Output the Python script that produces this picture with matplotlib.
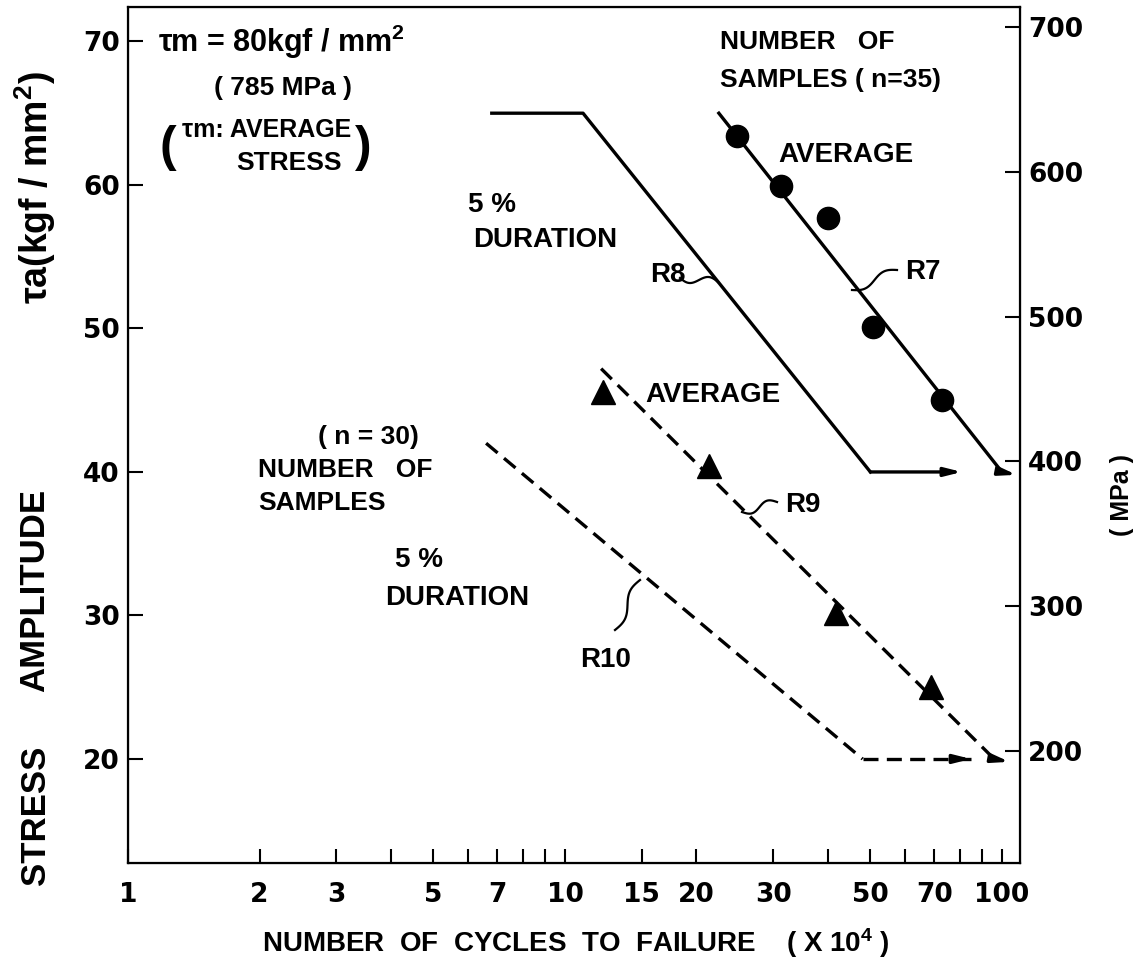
import numpy as np
import matplotlib
matplotlib.use("Agg")
import matplotlib.pyplot as plt
from matplotlib.ticker import FixedLocator, NullFormatter, NullLocator

# cycles (x 10^4) and stress amplitude (kgf/mm2)
r7_x = [22.5, 100]
r7_y = [65, 40]
r7_pts_x = [24.8, 31.2, 40.0, 50.7, 72.9]
r7_pts_y = [63.4, 59.9, 57.7, 50.1, 45.0]

r8_x = [6.8, 11, 50]
r8_y = [65, 65, 40]
r8_arrow_x = [50, 81]

r9_x = [12.1, 96]
r9_y = [47.2, 20]
r9_pts_x = [12.2, 21.4, 41.7, 68.9]
r9_pts_y = [45.6, 40.4, 30.2, 25.0]

r10_x = [6.6, 48]
r10_y = [42, 20]
r10_arrow_x = [48, 85]

x_labels = [1, 2, 3, 5, 7, 10, 15, 20, 30, 50, 70, 100]
x_minor = [4, 6, 8, 9, 40, 60, 80, 90]
y_ticks = [20, 30, 40, 50, 60, 70]
mpa_ticks = [200, 300, 400, 500, 600, 700]

TEXT_FONT = ["Liberation Sans", "DejaVu Sans"]
plt.rcParams["font.family"] = TEXT_FONT
plt.rcParams["font.weight"] = "bold"
plt.rcParams["mathtext.fontset"] = "custom"
plt.rcParams["mathtext.rm"] = "Liberation Sans:bold"
plt.rcParams["mathtext.it"] = "Liberation Sans:bold"
plt.rcParams["mathtext.bf"] = "Liberation Sans:bold"

W, H = 1142, 965
fig = plt.figure(figsize=(W / 100, H / 100), dpi=100)
ax = fig.add_axes([128 / W, 1 - 863 / H, 892 / W, 856 / H])

dash = (0, (4.5, 2.5))
ax.plot(r7_x, r7_y, color="black", lw=2.4)
ax.plot(r7_pts_x, r7_pts_y, "o", color="black", ms=16)
ax.plot(r8_x, r8_y, color="black", lw=2.4)
ax.plot(r9_x, r9_y, color="black", lw=2.4, ls=dash)
ax.plot(r9_pts_x, r9_pts_y, "^", color="black", ms=17)
ax.plot(r10_x, r10_y, color="black", lw=2.4, ls=dash)

arrow = dict(arrowstyle="-|>,head_length=1.0,head_width=0.25", color="black",
             lw=2.4, shrinkA=0, shrinkB=0)
ax.annotate("", xy=(r8_arrow_x[1], 40), xytext=(r8_arrow_x[0], 40),
            arrowprops=arrow)
ax.annotate("", xy=(108, 39.8), xytext=(r7_x[1], r7_y[1]), arrowprops=arrow)
ax.annotate("", xy=(104, 19.8), xytext=(r9_x[1], r9_y[1]), arrowprops=arrow)
ax.plot(r10_arrow_x, [20, 20], color="black", lw=2.4, ls=dash)
ax.annotate("", xy=(r10_arrow_x[1], 20), xytext=(r10_arrow_x[1] - 6, 20),
            arrowprops=arrow)

ax.set_xscale("log")
ax.set_xlim(1, 110)
ax.set_ylim(12.75, 72.4)
ax.xaxis.set_major_locator(FixedLocator(x_labels))
ax.xaxis.set_minor_locator(FixedLocator(x_minor))
ax.xaxis.set_minor_formatter(NullFormatter())
ax.set_xticklabels([str(v) for v in x_labels])
ax.set_yticks(y_ticks)
ax.yaxis.set_minor_locator(NullLocator())
ax.tick_params(axis="x", which="both", direction="in", length=10, width=1.5,
               labelsize=19, pad=14)
ax.tick_params(axis="y", direction="in", length=11, width=1.5, labelsize=19,
               pad=6)
for lab in ax.get_xticklabels() + ax.get_yticklabels():
    lab.set_family(["DejaVu Sans"])
for s in ax.spines.values():
    s.set_linewidth(1.6)

ax2 = ax.twinx()
ax2.set_ylim(122.6, 713.8)
ax2.set_yticks(mpa_ticks)
ax2.tick_params(axis="y", direction="in", length=11, width=1.5, labelsize=19,
                pad=6)
for lab in ax2.get_yticklabels():
    lab.set_family(["DejaVu Sans"])


def px(x, y):
    return x / W, 1 - y / H


def put(x, y, s, size=21, ha="left", **kw):
    fig.text(*px(x, y), s, fontsize=size, ha=ha, va="center",
             fontweight="bold", **kw)


def squiggle(x0, y0, x1, y1):
    t = np.linspace(0, 1, 40)
    xs = x0 + (x1 - x0) * t
    ys = y0 + (y1 - y0) * t
    dx, dy = x1 - x0, y1 - y0
    n = np.hypot(dx, dy)
    wob = 4 * np.sin(2 * np.pi * t)
    xs = xs - dy / n * wob
    ys = ys + dx / n * wob
    fig.add_artist(plt.Line2D(xs / W, 1 - ys / H, color="black", lw=1.6))


put(158, 42, "τm = 80kgf / mm$^{2}$", size=22)
put(283, 88, "( 785 MPa )", size=19, ha="center")
put(160, 148, "(", size=36)
put(372, 148, ")", size=36, ha="right")
put(182, 130, "τm: AVERAGE", size=18)
put(342, 163, "STRESS", size=19, ha="right")

put(720, 42, "NUMBER   OF", size=19)
put(720, 80, "SAMPLES ( n=35)", size=19)
put(778, 155, "AVERAGE", size=20)
put(468, 205, "5 %", size=20)
put(473, 240, "DURATION", size=20)
put(650, 275, "R8", size=20)
squiggle(680, 278, 718, 282)
put(905, 272, "R7", size=20)
squiggle(852, 290, 897, 270)
put(645, 395, "AVERAGE", size=20)

put(318, 437, "( n = 30)", size=19)
put(258, 470, "NUMBER   OF", size=19)
put(258, 503, "SAMPLES", size=19)
put(785, 505, "R9", size=20)
squiggle(742, 512, 777, 502)
put(395, 560, "5 %", size=20)
put(385, 598, "DURATION", size=20)
put(580, 660, "R10", size=20)
squiggle(640, 580, 615, 630)

# left axis title, drawn in three pieces like the hand lettering
put(35, 188, "τa(kgf / mm$^{2}$)", size=27, ha="center", rotation=90)
put(35, 590, "AMPLITUDE", size=25, ha="center", rotation=90)
put(35, 815, "STRESS", size=25, ha="center", rotation=90)
put(1122, 495, "( MPa )", size=18, ha="center", rotation=90)
put(576, 943, "NUMBER  OF  CYCLES  TO  FAILURE    ( X 10$^{4}$ )",
    size=20, ha="center")

fig.savefig("out.png", dpi=100)
